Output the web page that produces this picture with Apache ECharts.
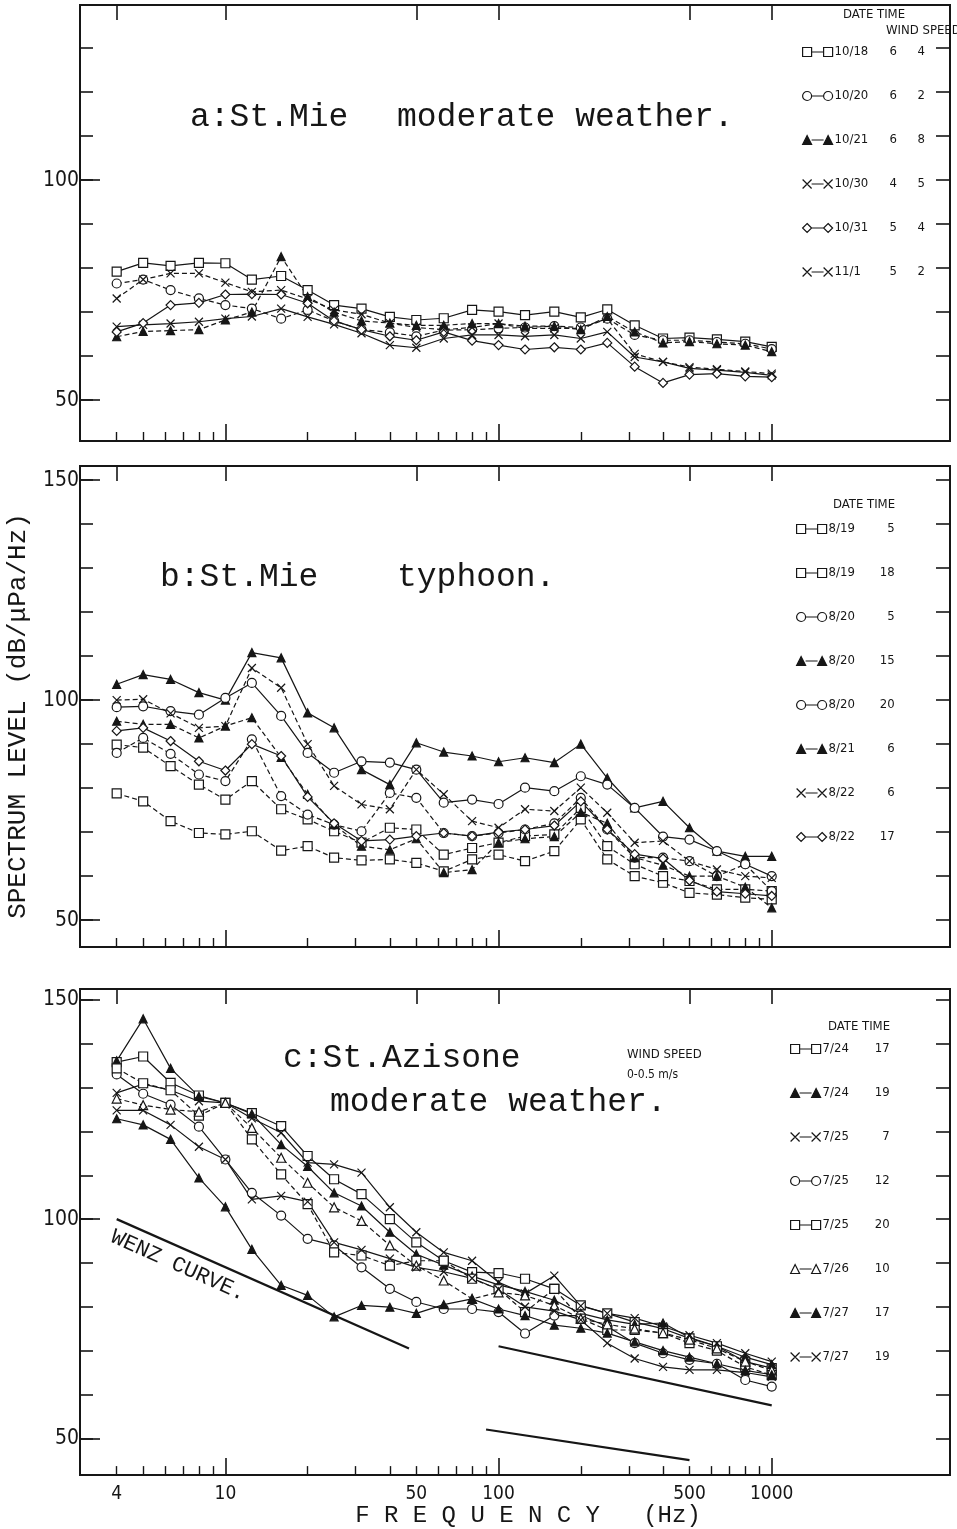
<!DOCTYPE html>
<html>
<head>
<meta charset="utf-8">
<script src="https://cdn.jsdelivr.net/npm/echarts@6/dist/echarts.min.js"></script>
<style>
  html, body { margin: 0; background: #fff; }
  #chart { width: 957px; height: 1529px; }
</style>
</head>
<body>
<div id="chart"></div>
<script>
// 1/3 octave band centre frequencies (Hz)
var freqs = [4, 5, 6.3, 8, 10, 12.5, 16, 20, 25, 31.5, 40, 50, 63, 80, 100, 125, 160, 200, 250, 315, 400, 500, 630, 800, 1000];

// panel a : St.Mie, moderate weather  (date time windspeed)
var namesA = ['10/18 6 4', '10/20 6 2', '10/21 6 8', '10/30 4 5', '10/31 5 4', '11/1 5 2'];
var a1 = [79.2, 81.2, 80.5, 81.2, 81.1, 77.4, 78.2, 75.0, 71.6, 70.8, 68.9, 68.2, 68.6, 70.5, 70.1, 69.3, 70.1, 68.8, 70.6, 67.0, 64.0, 64.2, 63.8, 63.3, 62.1];
var a2 = [76.5, 77.4, 75.0, 73.1, 71.6, 70.8, 68.5, 70.5, 68.0, 66.0, 65.4, 64.5, 65.9, 66.0, 66.3, 66.5, 66.8, 66.5, 68.5, 64.8, 63.6, 63.6, 63.2, 62.8, 61.6];
var a3 = [64.4, 65.6, 65.8, 66.0, 68.2, 70.0, 82.6, 73.5, 70.0, 68.0, 67.5, 67.0, 67.0, 67.4, 67.4, 66.8, 66.8, 66.0, 69.0, 65.5, 63.0, 63.3, 62.8, 62.5, 61.0];
var a4 = [66.7, 67.1, 67.4, 67.8, 68.5, 69.0, 70.8, 68.9, 67.2, 65.2, 62.5, 61.9, 64.0, 64.8, 64.8, 64.5, 64.8, 64.0, 65.5, 59.8, 58.7, 57.2, 56.8, 56.3, 55.6];
var a5 = [65.5, 67.5, 71.6, 72.1, 74.0, 74.1, 74.0, 72.0, 68.0, 66.0, 64.5, 63.6, 65.5, 63.5, 62.5, 61.5, 62.0, 61.5, 63.0, 57.6, 53.9, 55.8, 56.0, 55.4, 55.2];
var a6 = [73.1, 77.4, 78.8, 78.8, 76.7, 74.6, 75.0, 73.0, 70.5, 69.5, 67.5, 66.5, 66.0, 66.5, 67.4, 66.3, 66.3, 66.3, 68.5, 60.5, 58.7, 57.5, 57.0, 56.5, 56.0];

// panel b : St.Mie, typhoon  (date time)
var namesB = ['8/19 5', '8/19 18', '8/20 5', '8/20 15', '8/20 20', '8/21 6', '8/22 6', '8/22 17'];
var b1 = [78.8, 77.0, 72.5, 69.8, 69.5, 70.2, 65.8, 66.8, 64.2, 63.6, 63.8, 63.0, 61.1, 63.8, 64.9, 63.4, 65.7, 72.9, 63.8, 60.0, 58.5, 56.2, 55.8, 55.1, 54.7];
var b2 = [89.9, 89.2, 85.0, 80.8, 77.4, 81.6, 75.2, 72.9, 70.2, 67.6, 71.0, 70.6, 64.9, 66.4, 67.6, 69.1, 69.5, 75.5, 66.8, 62.7, 60.0, 58.9, 57.0, 57.0, 56.6];
var b3 = [88.0, 91.4, 87.8, 83.1, 81.6, 91.1, 78.2, 74.0, 71.7, 70.2, 78.9, 77.8, 69.8, 69.1, 69.8, 70.6, 72.0, 77.8, 70.6, 64.2, 64.2, 63.4, 60.0, 62.7, 56.6];
var b4 = [103.6, 105.8, 104.7, 101.7, 100.0, 110.8, 109.6, 97.1, 93.7, 84.2, 80.8, 90.3, 88.2, 87.3, 86.0, 86.9, 85.8, 90.0, 82.3, 75.5, 77.0, 71.0, 65.7, 64.5, 64.5];
var b5 = [98.4, 98.6, 97.5, 96.7, 100.5, 103.9, 96.4, 88.0, 83.5, 86.1, 85.8, 84.2, 76.7, 77.4, 76.4, 80.1, 79.3, 82.7, 80.8, 75.5, 69.0, 68.3, 65.7, 62.7, 60.0];
var b6 = [95.2, 94.5, 94.5, 91.4, 94.1, 96.0, 87.0, 78.6, 71.7, 66.8, 66.0, 68.5, 60.8, 61.5, 67.6, 68.5, 69.0, 74.5, 72.0, 64.2, 62.5, 60.0, 60.0, 57.5, 52.8];
var b7 = [100.0, 100.2, 97.0, 93.7, 94.1, 107.3, 102.8, 90.0, 80.5, 76.3, 75.2, 84.2, 78.6, 72.5, 71.0, 75.2, 74.8, 80.1, 74.4, 67.6, 68.0, 63.4, 61.5, 60.0, 59.6];
var b8 = [93.0, 93.7, 90.7, 86.1, 84.0, 90.0, 87.3, 78.0, 72.0, 68.0, 68.3, 69.1, 69.8, 69.1, 70.0, 70.6, 71.5, 77.0, 70.6, 65.0, 64.0, 59.0, 56.5, 56.0, 55.5];

// panel c : St.Azisone, moderate weather  (date time)
var namesC = ['7/24 17', '7/24 19', '7/25 7', '7/25 12', '7/25 20', '7/26 10', '7/27 17', '7/27 19'];
var c1 = [135.8, 137.1, 131.1, 128.2, 126.5, 124.2, 121.2, 114.4, 109.1, 105.7, 100.0, 94.7, 90.5, 87.9, 87.7, 86.4, 84.1, 80.3, 78.5, 76.5, 75.0, 72.8, 71.0, 67.5, 66.0];
var c2 = [136.1, 145.7, 134.4, 128.0, 126.5, 124.0, 117.0, 112.0, 106.0, 103.0, 97.0, 92.0, 89.5, 87.0, 85.0, 83.5, 81.5, 78.5, 77.0, 76.0, 76.3, 73.0, 71.0, 68.5, 66.8];
var c3 = [128.8, 130.8, 129.4, 126.9, 126.5, 123.0, 119.7, 112.9, 112.5, 110.6, 102.7, 97.0, 92.4, 90.5, 85.6, 83.0, 87.1, 80.2, 78.5, 77.4, 75.5, 73.5, 71.7, 69.4, 67.5];
var c4 = [133.0, 128.6, 126.1, 121.1, 113.6, 106.0, 100.8, 95.5, 94.0, 89.0, 84.1, 81.1, 79.5, 79.5, 78.8, 73.9, 78.0, 78.0, 75.5, 71.7, 69.4, 67.9, 67.0, 63.3, 61.8];
var c5 = [134.4, 131.0, 129.4, 123.6, 126.5, 118.2, 110.2, 103.4, 92.4, 91.7, 89.4, 90.5, 90.5, 86.4, 84.0, 78.8, 84.1, 77.3, 74.7, 74.7, 74.0, 71.7, 70.0, 66.3, 64.4];
var c6 = [127.5, 126.0, 125.0, 124.5, 126.5, 120.8, 114.0, 108.3, 102.7, 99.6, 94.0, 89.4, 86.0, 81.8, 83.3, 82.6, 80.3, 77.3, 76.0, 75.0, 74.0, 72.5, 70.5, 67.5, 65.5];
var c7 = [122.9, 121.5, 118.2, 109.4, 102.8, 93.1, 84.9, 82.6, 77.7, 80.3, 79.9, 78.5, 80.5, 81.8, 79.5, 78.0, 75.8, 75.1, 74.0, 72.0, 70.0, 68.5, 67.0, 65.5, 64.5];
var c8 = [124.8, 124.8, 121.5, 116.5, 113.6, 104.5, 105.3, 104.0, 94.7, 93.0, 91.0, 89.0, 88.0, 86.5, 84.0, 80.0, 79.0, 77.0, 71.7, 68.2, 66.3, 65.6, 65.6, 65.0, 64.0];

// Wenz curve segments
var wenz1Freq = [4, 47], wenz1Level = [100, 70.5];
var wenz2Freq = [100, 1000], wenz2Level = [71, 57.5];
var wenz3Freq = [90, 500], wenz3Level = [52, 45];

// axis ticks and labels
var xTicksMinor = [4, 5, 6, 7, 8, 9, 20, 30, 40, 50, 60, 70, 80, 90, 200, 300, 400, 500, 600, 700, 800, 900];
var xTicksMajor = [10, 100, 1000];
var xTicksTop = [4, 10, 50, 100, 500, 1000];
var xLabels = [4, 10, 50, 100, 500, 1000];
var yTicks = [50, 60, 70, 80, 90, 100, 110, 120, 130, 140, 150];
var yLabels = [50, 100, 150];

var cond = "'DejaVu Sans Condensed', 'Liberation Sans Narrow', sans-serif";
var mono = "'Liberation Mono', 'DejaVu Sans Mono', monospace";
var ink = '#161616';

// layout of the three panels (pixels / axis range / legend columns)
var panels = [
    { top: 5, bottom: 441, yMin: 40.7, yMax: 139.8, legendLeft: 797, legendTop: 40, dW: 55, tW: 28, tAlign: 'left' },
    { top: 466, bottom: 947, yMin: 43.9, yMax: 153.2, legendLeft: 791, legendTop: 517, dW: 44, tW: 22, tAlign: 'right' },
    { top: 989, bottom: 1477, yMin: 41.6, yMax: 152.5, legendLeft: 785, legendTop: 1037, dW: 45, tW: 22, tAlign: 'right' }
];
var xMin = 2.936, xMax = 4494;

var SYM = {
    sq: { symbol: 'rect', size: 9, fill: '#fff', end: 'h9v9h-9z' },
    ci: { symbol: 'circle', size: 9, fill: '#fff', end: 'm0,4.5a4.5,4.5 0 1 1 9,0a4.5,4.5 0 1 1 -9,0z' },
    tr: { symbol: 'triangle', size: 8, fill: ink, end: 'm0,9l4.5,-9l4.5,9z' },
    to: { symbol: 'triangle', size: 9, fill: '#fff', end: 'm0,9l4.5,-9l4.5,9z' },
    di: { symbol: 'diamond', size: 9, fill: '#fff', end: 'm4.5,0l4.5,4.5l-4.5,4.5l-4.5,-4.5z' },
    x: { symbol: 'path://M0,0L10,10M10,0L0,10', size: 8, fill: ink, end: 'l9,9m-9,0l9,-9' }
};

// legend glyph: symbol - line - symbol
function legendIcon(key) {
    var e = SYM[key].end;
    return 'path://M0,0' + e + 'M9,4.5L21,4.5M21,0' + e;
}

var groups = [
    { names: namesA, vals: [a1, a2, a3, a4, a5, a6], sym: ['sq', 'ci', 'tr', 'x', 'di', 'x'], dash: [0, 1, 1, 0, 0, 1] },
    { names: namesB, vals: [b1, b2, b3, b4, b5, b6, b7, b8], sym: ['sq', 'sq', 'ci', 'tr', 'ci', 'tr', 'x', 'di'], dash: [1, 1, 1, 0, 0, 1, 1, 0] },
    { names: namesC, vals: [c1, c2, c3, c4, c5, c6, c7, c8], sym: ['sq', 'tr', 'x', 'ci', 'sq', 'to', 'tr', 'x'], dash: [0, 0, 0, 0, 1, 1, 0, 0] }
];

function pairs(xs, ys) {
    return xs.map(function (x, i) { return [x, ys[i]]; });
}

var series = [];
groups.forEach(function (g, p) {
    g.vals.forEach(function (v, k) {
        var s = SYM[g.sym[k]];
        series.push({
            name: g.names[k],
            type: 'line',
            xAxisIndex: p * 3,
            yAxisIndex: p * 3,
            data: pairs(freqs, v),
            symbol: s.symbol,
            symbolSize: s.size,
            showAllSymbol: true,
            lineStyle: { color: ink, width: 1.2, type: g.dash[k] ? [5, 3] : 'solid' },
            itemStyle: { color: s.fill, borderColor: ink, borderWidth: 1.2 },
            emphasis: { disabled: true },
            animation: false
        });
    });
});

[[wenz1Freq, wenz1Level], [wenz2Freq, wenz2Level], [wenz3Freq, wenz3Level]].forEach(function (w) {
    series.push({
        type: 'line',
        xAxisIndex: 6,
        yAxisIndex: 6,
        data: pairs(w[0], w[1]),
        symbol: 'none',
        lineStyle: { color: ink, width: 2.2 },
        emphasis: { disabled: true },
        animation: false
    });
});

var grids = [], xAxes = [], yAxes = [], legends = [];
panels.forEach(function (pn, p) {
    grids.push({
        left: 80, width: 870, top: pn.top, height: pn.bottom - pn.top,
        show: true, borderColor: ink, borderWidth: 2, backgroundColor: 'transparent'
    });
    var inRange = yTicks.filter(function (t) { return t > pn.yMin && t < pn.yMax; });
    var labRange = yLabels.filter(function (t) { return t > pn.yMin && t < pn.yMax; });
    var baseX = {
        gridIndex: p, type: 'log', min: xMin, max: xMax, logBase: 10,
        axisLine: { show: false, onZero: false }, splitLine: { show: false }, minorSplitLine: { show: false }
    };
    xAxes.push(Object.assign({}, baseX, {
        position: 'bottom',
        axisTick: { show: true, inside: true, length: 9, customValues: xTicksMinor, lineStyle: { color: ink, width: 1.4 } },
        axisLabel: { show: false }
    }));
    xAxes.push(Object.assign({}, baseX, {
        position: 'bottom',
        axisTick: { show: true, inside: true, length: 17, customValues: xTicksMajor, lineStyle: { color: ink, width: 1.6 } },
        axisLabel: p === 2 ? {
            show: true, customValues: xLabels, margin: 9, color: ink, fontFamily: cond, fontSize: 19,
            formatter: function (v) { return String(Math.round(v)); }
        } : { show: false },
        name: p === 2 ? 'F R E Q U E N C Y   (Hz)' : '',
        nameLocation: 'middle', nameGap: 23,
        nameTextStyle: { fontFamily: mono, fontSize: 24, color: ink, padding: [0, 0, 0, 26] }
    }));
    xAxes.push(Object.assign({}, baseX, {
        position: 'top',
        axisTick: { show: true, inside: true, length: 15, customValues: xTicksTop, lineStyle: { color: ink, width: 1.6 } },
        axisLabel: { show: false }
    }));

    var baseY = {
        gridIndex: p, type: 'value', min: pn.yMin, max: pn.yMax,
        axisLine: { show: false, onZero: false }, splitLine: { show: false }
    };
    yAxes.push(Object.assign({}, baseY, {
        position: 'left',
        axisTick: { show: true, inside: true, length: 13, customValues: inRange, lineStyle: { color: ink, width: 1.6 } },
        axisLabel: {
            show: true, customValues: labRange, margin: 1, color: ink, fontFamily: cond, fontSize: 21,
            formatter: function (v) { return String(Math.round(v)); }
        }
    }));
    yAxes.push(Object.assign({}, baseY, {
        position: 'left',
        axisTick: { show: true, inside: true, length: 20, customValues: labRange, lineStyle: { color: ink, width: 1.6 } },
        axisLabel: { show: false }
    }));
    yAxes.push(Object.assign({}, baseY, {
        position: 'right',
        axisTick: { show: true, inside: true, length: 14, customValues: inRange, lineStyle: { color: ink, width: 1.6 } },
        axisLabel: { show: false }
    }));

    legends.push({
        data: groups[p].names.map(function (n, k) {
            var s = SYM[groups[p].sym[k]];
            return {
                name: n,
                icon: legendIcon(groups[p].sym[k]),
                itemStyle: { color: s.fill, borderColor: ink, borderWidth: 1.2 }
            };
        }),
        orient: 'vertical',
        left: pn.legendLeft, top: pn.legendTop,
        itemWidth: 30, itemHeight: 9, itemGap: 30,
        selectedMode: false,
        formatter: function (name) {
            var parts = name.split(' ');
            return '{d|' + parts[0] + '}{t|' + parts[1] + '}' + (parts[2] ? '{w|' + parts[2] + '}' : '');
        },
        textStyle: {
            color: ink, fontFamily: cond, fontSize: 13, lineHeight: 14, padding: [0, 0, 0, -3],
            rich: {
                d: { fontFamily: cond, fontSize: 13, color: ink, width: pn.dW, lineHeight: 14 },
                t: { fontFamily: cond, fontSize: 13, color: ink, width: pn.tW, align: pn.tAlign, lineHeight: 14 },
                w: { fontFamily: cond, fontSize: 13, color: ink, width: 10, align: 'left', lineHeight: 14 }
            }
        }
    });
});

function txt(x, y, s, font, extra) {
    return Object.assign({
        type: 'text', x: x, y: y, silent: true,
        style: { text: s, font: font, fill: ink, textAlign: 'left', textVerticalAlign: 'middle', align: 'left', verticalAlign: 'middle' }
    }, extra || {});
}

var titleFont = "33px 'Liberation Mono', monospace";
var smallFont = "13px 'DejaVu Sans Condensed', sans-serif";
var yTitle = txt(18, 716, 'SPECTRUM LEVEL (dB/\u03bcPa/Hz)', "26px 'Liberation Mono', monospace", { rotation: Math.PI / 2 });
yTitle.style.textAlign = 'center';
yTitle.style.align = 'center';
var graphic = [
    yTitle,
    txt(190, 117, 'a:St.Mie', titleFont),
    txt(397, 117, 'moderate weather.', titleFont),
    txt(160, 577, 'b:St.Mie', titleFont),
    txt(397, 577, 'typhoon.', titleFont),
    txt(283, 1058, 'c:St.Azisone', titleFont),
    txt(330, 1102, 'moderate weather.', titleFont),
    txt(627, 1055, 'WIND SPEED', smallFont),
    txt(627, 1075, '0-0.5 m/s', "12px 'DejaVu Sans Condensed', sans-serif"),
    txt(843, 15, 'DATE TIME', smallFont),
    txt(886, 31, 'WIND SPEED', smallFont),
    txt(833, 505, 'DATE TIME', smallFont),
    txt(828, 1027, 'DATE TIME', smallFont),
    txt(112, 1236, 'WENZ CURVE.', "22px 'Liberation Mono', monospace", { rotation: -0.42 })
];

var chart = echarts.init(document.getElementById('chart'), null, { renderer: 'canvas' });
chart.setOption({
    backgroundColor: '#fff',
    animation: false,
    grid: grids,
    xAxis: xAxes,
    yAxis: yAxes,
    legend: legends,
    series: series,
    graphic: graphic
});
</script>
</body>
</html>
